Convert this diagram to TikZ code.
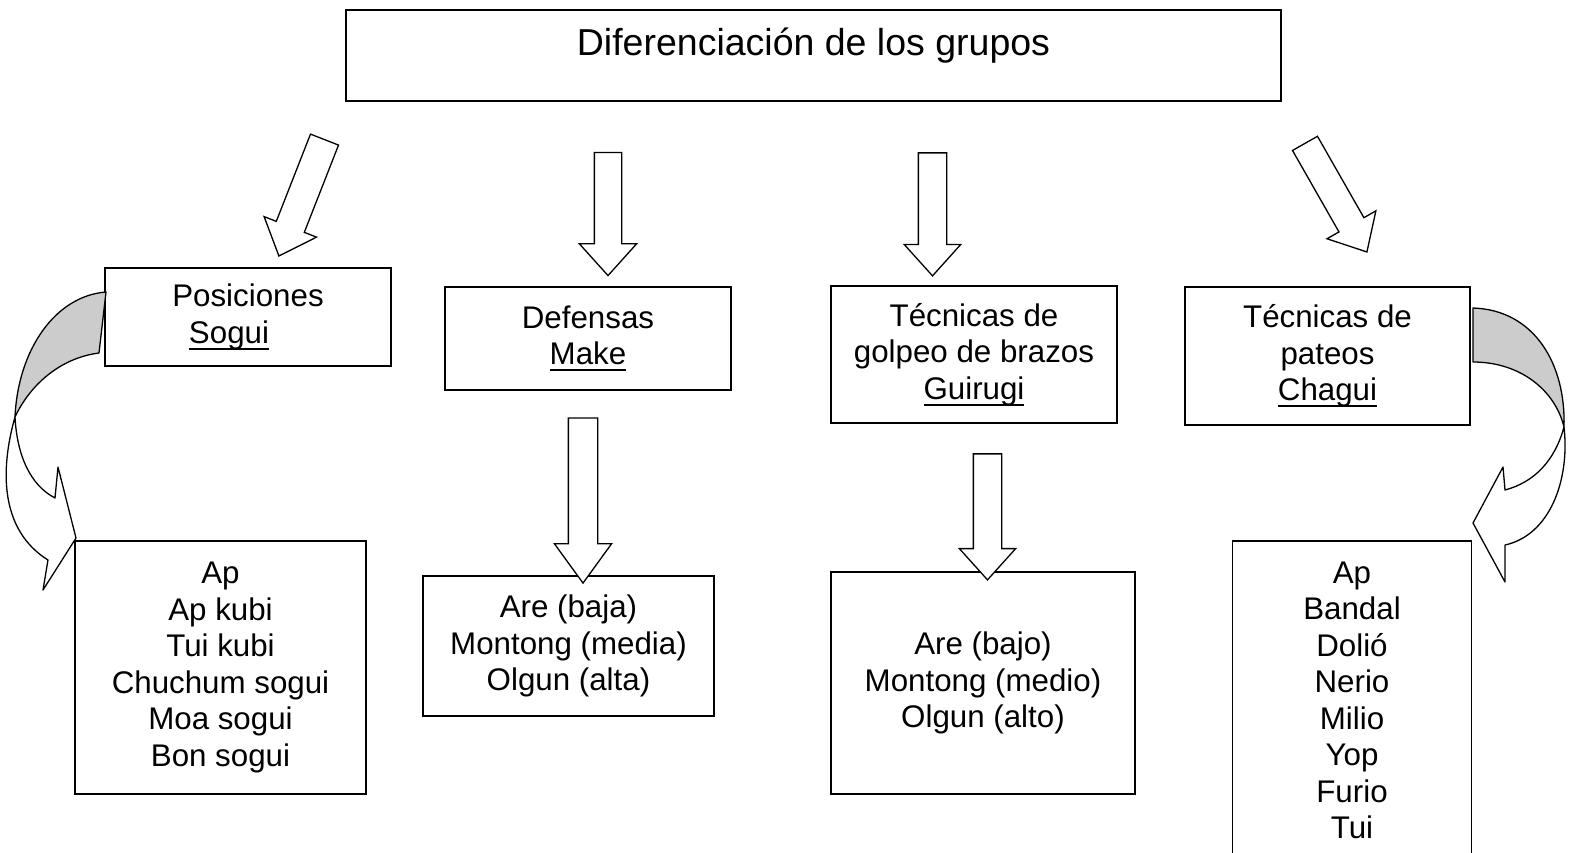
\documentclass[tikz,border=0pt]{standalone}
\usepackage{fontspec}
\setmainfont{Liberation Sans}
\usetikzlibrary{shapes.arrows}
\newcommand{\cuerpo}{\fontsize{31.3}{36.5}\selectfont}
\newcommand{\titulo}{\fontsize{37.5}{44}\selectfont}
\newcommand{\subrayar}[1]{\setbox0\hbox{#1}\rlap{\rule[-6.5pt]{\wd0}{2pt}}\box0}
\tikzstyle{caja}=[draw,line width=1.3pt,align=center,font=\cuerpo,inner sep=0pt]
\tikzstyle{flecha}=[draw,line width=1.3pt,single arrow,fill=white,inner xsep=0pt,single arrow tip angle=84]
\tikzstyle{curva}=[line width=1.3pt,line join=round]

\begin{document}
\begin{tikzpicture}[x=1pt,y=-1pt]
\useasboundingbox (0,0) rectangle (1572,852);

\node (titulo) [caja, font=\titulo, minimum width=935pt, minimum height=91pt, text height=14pt, text depth=14pt] at (813.5,55.5) {Diferenciación de los grupos};

\node (posiciones) [caja, minimum width=286pt, minimum height=98pt] at (248,317) {Posiciones\\\hspace*{-38pt}\subrayar{Sogui}};
\node (defensas) [caja, minimum width=286pt, minimum height=103pt] at (588,338.5) {Defensas\\\subrayar{Make}};
\node (golpeo) [caja, minimum width=286pt, minimum height=137pt] at (974,354.5) {Técnicas de\\golpeo de brazos\\\subrayar{Guirugi}};
\node (pateos) [caja, minimum width=285pt, minimum height=138pt] at (1327.5,356) {Técnicas de\\pateos\\\subrayar{Chagui}};

\node (sogui) [caja, minimum width=291pt, minimum height=253pt] at (220.5,667.5) {Ap\\Ap kubi\\Tui kubi\\Chuchum sogui\\Moa sogui\\Bon sogui};
\node (make) [caja, minimum width=291pt, minimum height=140pt] at (568.5,646) {Are (baja)\\Montong (media)\\Olgun (alta)};
\node (guirugi) [caja, minimum width=304pt, minimum height=222pt] at (983,683) {Are (bajo)\\Montong (medio)\\Olgun (alto)};
\node (chagui) [caja, minimum width=239pt, minimum height=319pt] at (1352,700.5) {Ap\\Bandal\\Dolió\\Nerio\\Milio\\Yop\\Furio\\Tui};

% flechas de bloque
\node (f1) [flecha, minimum height=125pt, minimum width=55pt, inner ysep=14.4pt, single arrow head extend=13.1pt, rotate=248.6] at (304.75,190) {};
\node (f2) [flecha, minimum height=123pt, minimum width=56pt, inner ysep=13pt, single arrow head extend=15pt, rotate=-90] at (608,206.5) {};
\node (f3) [flecha, minimum height=123pt, minimum width=55pt, inner ysep=13.5pt, single arrow head extend=14pt, rotate=-90] at (932.5,206.5) {};
\node (f4) [flecha, minimum height=125pt, minimum width=55pt, inner ysep=13.7pt, single arrow head extend=13.8pt, rotate=-60.3] at (1332,190.75) {};
\node (f5) [flecha, minimum height=165pt, minimum width=56pt, inner ysep=14pt, single arrow head extend=14pt, single arrow tip angle=72, rotate=-90] at (583,490.5) {};
\node (f6) [flecha, minimum height=126pt, minimum width=55pt, inner ysep=13.5pt, single arrow head extend=14pt, rotate=-90] at (987.5,509) {};

% flechas curvas
\draw[curva, fill=black!20] (106,292) .. controls (55,296) and (18,350) .. (15,417)
  .. controls (30,385) and (60,358) .. (99,353) -- cycle;
\draw[curva, fill=white] (15,417) .. controls (0,470) and (0,530) .. (48,560) -- (43,590) -- (76,538)
  -- (58,467) -- (55,498) .. controls (30,485) and (17,455) .. cycle;

\draw[curva, fill=black!20] (1473,308) .. controls (1535,310) and (1566,365) .. (1564,427)
  .. controls (1555,390) and (1520,362) .. (1473,362) -- cycle;
\draw[curva, fill=white] (1564,427) .. controls (1570,480) and (1550,535) .. (1505,545) -- (1505,582)
  -- (1473,523) -- (1503,467) -- (1505,490) .. controls (1535,482) and (1555,460) .. cycle;
\end{tikzpicture}
\end{document}
